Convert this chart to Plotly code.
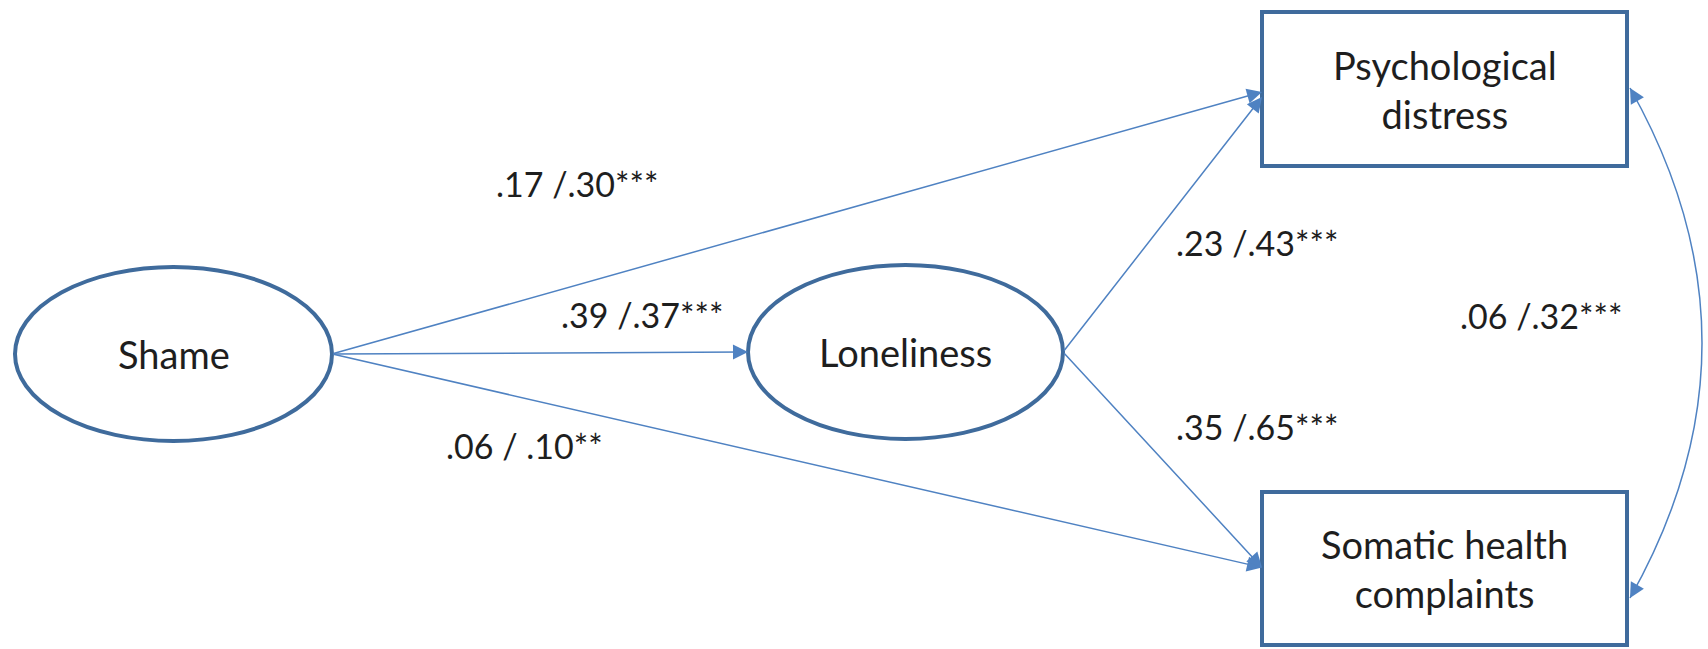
import plotly.graph_objects as go

# ---------------- data ----------------
node_names = ["Shame", "Loneliness", "Psychological<br>distress", "Somatic health<br>complaints"]
node_kinds = ["latent", "latent", "observed", "observed"]

path_from = ["Shame", "Shame", "Shame", "Loneliness", "Loneliness"]
path_to = ["Psychological<br>distress", "Loneliness", "Somatic health<br>complaints",
           "Psychological<br>distress", "Somatic health<br>complaints"]
path_labels = [".17 /.30***", ".39 /.37***", ".06 / .10**", ".23 /.43***", ".35 /.65***"]

cov_pair = ["Psychological<br>distress", "Somatic health<br>complaints"]
cov_label = ".06 /.32***"

# ---------------- layout (pixel space) ----------------
W, H = 1708, 649
node_box = {  # x0, x1, y0, y1
    "Shame": (15, 332, 267, 441),
    "Loneliness": (748, 1063, 265, 439),
    "Psychological<br>distress": (1262, 1627, 12, 166),
    "Somatic health<br>complaints": (1262, 1627, 492, 645),
}
port_dy = [3, 0, -1, 8, -1]            # vertical offset of arrow tip on target
label_pos = [(577, 183), (642, 314), (524, 445), (1257, 242), (1257, 426)]
cov_label_pos = (1541, 315)
cov_port_y = (88, 598)
cov_bulge = 72                         # max horizontal reach of the curve beyond its ends

OUTLINE = "#3F6B9C"
EDGE = "#4F82C2"
TXT = "#1e1e1e"
FONT = "Lato"

fig = go.Figure()
shapes = []
annotations = []

def center(n):
    x0, x1, y0, y1 = node_box[n]
    return (x0 + x1) / 2, (y0 + y1) / 2

# nodes
for name, kind in zip(node_names, node_kinds):
    x0, x1, y0, y1 = node_box[name]
    shapes.append(dict(type="circle" if kind == "latent" else "rect",
                       xref="x", yref="y", x0=x0, x1=x1, y0=y0, y1=y1,
                       line=dict(color=OUTLINE, width=4), fillcolor="white", layer="below"))
    cx, cy = center(name)
    annotations.append(dict(x=cx, y=cy, xref="x", yref="y", text=name, showarrow=False,
                            font=dict(family=FONT, size=38, color=TXT), align="center"))

# directed paths
for i, (src, dst) in enumerate(zip(path_from, path_to)):
    sx0, sx1, sy0, sy1 = node_box[src]
    scx, scy = center(src)
    tx0, tx1, ty0, ty1 = node_box[dst]
    tcx, tcy = center(dst)
    annotations.append(dict(x=tx0, y=tcy + port_dy[i], ax=sx1, ay=scy,
                            xref="x", yref="y", axref="x", ayref="y",
                            text="", showarrow=True, arrowhead=2, arrowsize=2,
                            arrowwidth=1.5, arrowcolor=EDGE, standoff=0, startstandoff=0))
    lx, ly = label_pos[i]
    annotations.append(dict(x=lx, y=ly, xref="x", yref="y", text=path_labels[i],
                            showarrow=False, font=dict(family=FONT, size=34, color=TXT)))

# covariance (curved double-headed arrow)
a, b = cov_pair
xa = node_box[a][1] + 3
xb = node_box[b][1] + 3
ya, yb = cov_port_y
ctrl_x = (xa + xb) / 2 + 2 * cov_bulge
ctrl_y = (ya + yb) / 2
shapes.append(dict(type="path", xref="x", yref="y",
                   path=f"M {xa} {ya} Q {ctrl_x} {ctrl_y} {xb} {yb}",
                   line=dict(color=EDGE, width=1.5)))
for (px, py) in [(xa, ya), (xb, yb)]:
    dx, dy = ctrl_x - px, ctrl_y - py
    norm = (dx * dx + dy * dy) ** 0.5
    annotations.append(dict(x=px, y=py, ax=px + dx / norm * 14, ay=py + dy / norm * 14,
                            xref="x", yref="y", axref="x", ayref="y",
                            text="", showarrow=True, arrowhead=2, arrowsize=2,
                            arrowwidth=1.5, arrowcolor=EDGE, standoff=0))
annotations.append(dict(x=cov_label_pos[0], y=cov_label_pos[1], xref="x", yref="y",
                        text=cov_label, showarrow=False,
                        font=dict(family=FONT, size=34, color=TXT)))

fig.update_layout(
    width=W, height=H, margin=dict(l=0, r=0, t=0, b=0),
    paper_bgcolor="white", plot_bgcolor="white",
    xaxis=dict(range=[0, W], visible=False, fixedrange=True),
    yaxis=dict(range=[H, 0], visible=False, fixedrange=True),
    shapes=shapes, annotations=annotations, showlegend=False,
)
fig.write_html("out.html", config={"displayModeBar": False},
               post_script="document.body.style.margin='0';")
